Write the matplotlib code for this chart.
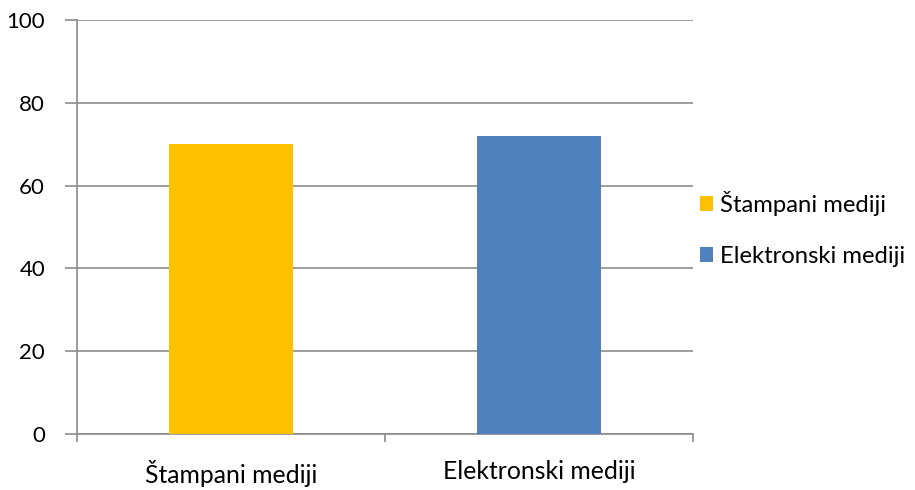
import matplotlib
matplotlib.use("Agg")
import matplotlib.pyplot as plt
from matplotlib.patches import Patch

categories = ["Štampani mediji", "Elektronski mediji"]
values = [70, 72]
colors = ["#FFC000", "#4F81BD"]
yticks = [0, 20, 40, 60, 80, 100]

plt.rcParams['font.family'] = ['Lato', 'DejaVu Sans']

fig = plt.figure(figsize=(9.15, 4.9), dpi=100)
ax = fig.add_axes([77/915, 56/490, 616/915, 414/490])

x = list(range(len(categories)))
for i, (c, v, col) in enumerate(zip(categories, values, colors)):
    ax.bar(i, v, width=0.4, color=col, label=c, zorder=3)

ax.set_xlim(-0.5, len(categories) - 0.5)
ax.set_ylim(0, 100)
ax.set_yticks(yticks)
ax.set_yticklabels([str(t) for t in yticks], fontsize=16)
ax.yaxis.grid(True, color="#8C8C8C", linewidth=1.2, zorder=0)
ax.set_xticks(x)
ax.set_xticklabels(categories, fontsize=17.8)
ax.tick_params(axis='x', length=0, pad=19)
ax.tick_params(axis='y', length=9, color="#8C8C8C", width=1.2, pad=14)
ax.set_xticks([-0.5 + i for i in range(len(categories) + 1)], minor=True)
ax.tick_params(axis='x', which='minor', length=6, color="#8C8C8C", width=1.2)

for s in ['top', 'right']:
    ax.spines[s].set_visible(False)
for s in ['left', 'bottom']:
    ax.spines[s].set_color("#8C8C8C")
    ax.spines[s].set_linewidth(1.2)

handles = [Patch(facecolor=col, label=c) for c, col in zip(categories, colors)]
leg = fig.legend(handles=handles, loc='center left', bbox_to_anchor=(700/915, 1 - 229/490),
                 frameon=False, fontsize=17.2, handlelength=0.55, handleheight=0.55,
                 handletextpad=0.3, labelspacing=1.25, borderpad=0, borderaxespad=0)

fig.savefig("out.png", dpi=100, facecolor="white")
